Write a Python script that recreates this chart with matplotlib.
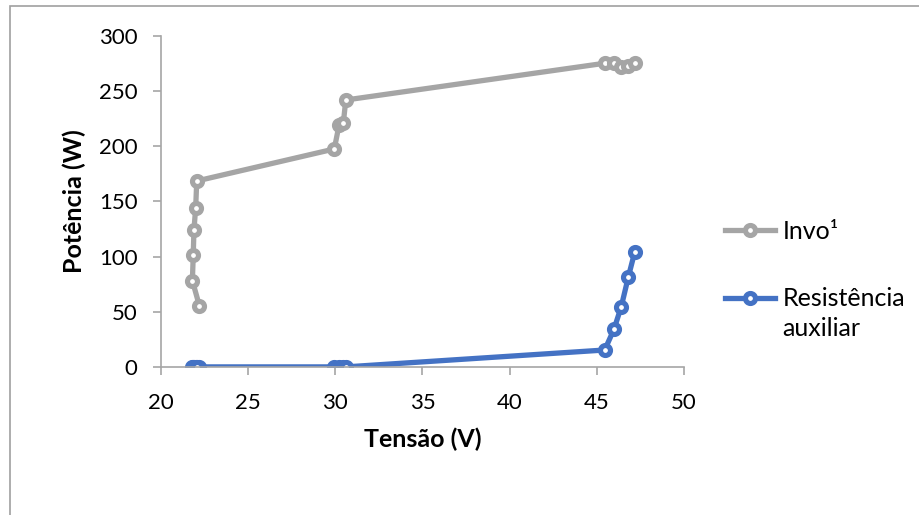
import matplotlib
matplotlib.use('Agg')
import matplotlib.pyplot as plt
from matplotlib.patches import Rectangle

plt.rcParams['font.family'] = ['Lato', 'DejaVu Sans']

# tensao (V), shared by both series
tensao = [22.20, 21.80, 21.85, 21.89, 21.99, 22.05,
          29.94, 30.21, 30.46, 30.60,
          45.45, 45.98, 46.40, 46.81, 47.17]
invo = [55.6, 78.2, 101.5, 124.2, 144.4, 168.6,
        197.6, 219.0, 221.4, 242.0,
        275.3, 275.5, 272.2, 272.8, 275.5]
resist = [0.1, 0.1, 0.1, 0.1, 0.1, 0.1,
          0.1, 0.1, 0.1, 0.1,
          15.4, 34.1, 54.6, 81.8, 104.0]

gray = '#a5a5a5'
blue = '#4472c4'

fig = plt.figure(figsize=(9.2, 5.15), dpi=100)
ax = fig.add_axes([161/920, 1 - 367/515, (684-161)/920, (367-36)/515])

mk = dict(marker='o', markersize=7.2, markeredgewidth=3.7, markerfacecolor='white', linewidth=3.8)
ax.plot(tensao, invo, color=gray, markeredgecolor=gray, label='Invo¹', **mk)
ax.plot(tensao, resist, color=blue, markeredgecolor=blue, label='Resistência\nauxiliar', **mk)

ax.set_xlim(20, 50)
ax.set_ylim(0, 300)
ax.set_xticks(range(20, 51, 5))
ax.set_yticks(range(0, 301, 50))
for s in ['top', 'right']:
    ax.spines[s].set_visible(False)
for s in ['left', 'bottom']:
    ax.spines[s].set_color('#a6a6a6')
    ax.spines[s].set_linewidth(1.2)
ax.tick_params(direction='out', length=6, width=1.2, color='#a6a6a6', labelsize=16)
ax.tick_params(axis='y', pad=11)
ax.tick_params(axis='x', pad=13)

ax.set_xlabel('Tensão (V)', fontsize=18, fontweight='bold', labelpad=10)
ax.set_ylabel('Potência (W)', fontsize=18, fontweight='bold', labelpad=9)

leg = ax.legend(loc='upper left', bbox_to_anchor=(725/920, 1 - 220/515), bbox_transform=fig.transFigure,
                frameon=False, fontsize=18, handlelength=2.0, labelspacing=1.75, handletextpad=0.3,
                borderpad=0, borderaxespad=0)
for t in leg.get_texts():
    t.set_linespacing(1.4)
# keep the blue key level with the first line of its label
h = leg.legend_handles[1]
h.set_ydata([y + 12 for y in h.get_ydata()])

# chart area border
fig.patches.append(Rectangle((10.5/920, -0.1), 2, 1 - 5.5/515 + 0.1, transform=fig.transFigure,
                             fill=False, edgecolor='#a0a0a0', linewidth=1.2))

fig.savefig('out.png', dpi=100)
plt.close(fig)
